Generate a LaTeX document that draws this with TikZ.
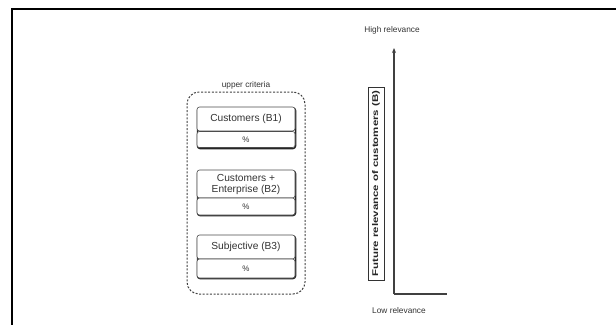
\documentclass[tikz,border=0pt]{standalone}
\usepackage{fontspec}
\setmainfont{Liberation Sans}
\usetikzlibrary{arrows.meta}
\begin{document}
\begin{tikzpicture}[x=1pt,y=-1pt,
  crit/.style={draw=black!70, line width=0.6pt, fill=white, rounded corners=2.5pt,
     minimum width=98pt, inner sep=1pt, align=center, font=\fontsize{10.2}{11}\selectfont, text=black!80},
  pct/.style={crit, font=\fontsize{8}{8.5}\selectfont},
  shad/.style={draw=black!85, line width=1.5pt, rounded corners=2.5pt},
  axis/.style={draw=black!75, line width=1.6pt},
  small/.style={font=\fontsize{8.3}{9}\selectfont, text=black!80}]
\useasboundingbox (0,0) rectangle (616,325);
% frame
\draw[line width=2pt] (616,8.5) -- (12,8.5) -- (12,325);
% container
\node[draw=black!75, line width=1pt, dash pattern=on 2pt off 1.6pt, rounded corners=12pt,
      minimum width=118pt, minimum height=202pt, inner sep=0pt] (cont) at (246,193) {};
\node[small, anchor=south] (lbl) at (cont.north) [yshift=-1pt] {upper criteria};
% shadows
\draw[shad] (197.5,108) rectangle (295.5,148.5);
\draw[shad] (197.5,171) rectangle (295.5,215.5);
\draw[shad] (197.5,236) rectangle (295.5,278.5);
% boxes
\node[crit, minimum height=24pt] (b1) at (246,119) {Customers (B1)};
\node[pct, minimum height=16pt] (p1) at (246,139.5) {\%};
\node[crit, minimum height=28pt] (b2) at (246,184) {Customers +\\Enterprise (B2)};
\node[pct, minimum height=17pt] (p2) at (246,206.5) {\%};
\node[crit, minimum height=24pt] (b3) at (246,247) {Subjective (B3)};
\node[pct, minimum height=19pt] (p3) at (246,268.5) {\%};
% axes
\coordinate (org) at (394,294);
\coordinate (top) at (394,48);
\coordinate (right) at (447,294);
\draw[axis, -{Stealth[length=5pt,width=4pt]}] (org) -- (top);
\draw[axis] (org) -- (right);
\node[small] (high) at (392,30) {High relevance};
\node[small] (low) at (399,311) {Low relevance};
\node[draw=black!80, line width=0.9pt, rotate=90, minimum width=193pt, minimum height=16pt,
      inner sep=0pt, font=\bfseries\fontsize{8.3}{9}\selectfont, text=black!85] (fut) at (376,183.5)
      {\scalebox{1.38}[1]{Future relevance of customers (B)}};
\end{tikzpicture}
\end{document}
